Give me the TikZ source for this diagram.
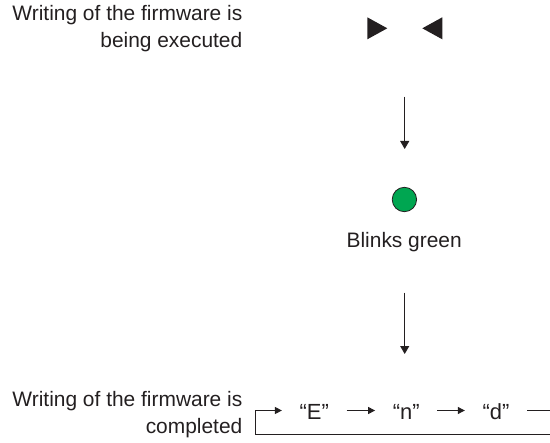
\documentclass[tikz,border=0pt]{standalone}
\usepackage{fontspec}
\setmainfont{Liberation Sans}
\usetikzlibrary{arrows.meta}
\definecolor{ink}{HTML}{231F20}
\definecolor{ledgreen}{HTML}{00A651}
\tikzset{
  lbl/.style={text=ink, font=\fontsize{21}{27}\selectfont, inner sep=0pt},
  seqchar/.style={lbl, font=\fontsize{22}{27}\selectfont, inner xsep=17.5bp, inner ysep=0pt, text height=17bp, text depth=0pt, anchor=base},
  varr/.style={draw=ink, line width=1bp, -{Triangle[length=8bp,width=9bp]}},
  harr/.style={draw=ink, line width=1bp, -{Triangle[length=7bp,width=7bp]}},
  plainline/.style={draw=ink, line width=1bp},
  tri/.style={fill=ink, draw=none},
  led/.style={circle, fill=ledgreen, draw=ink, line width=0.8bp, minimum size=24.4bp, inner sep=0pt}
}
\begin{document}
\begin{tikzpicture}[x=1bp, y=-1bp]
\useasboundingbox (0,0) rectangle (550,443);
% top label (base anchor = baseline of its last line)
\node[lbl, align=right, anchor=base east] (exec) at (242.5,47.7) {Writing of the firmware is\\being executed};
% display triangles
\coordinate (disp) at (404.8,28.3);
\fill[tri] (367.3,17.3) -- (387.3,28.3) -- (367.3,39.3) -- cycle;
\fill[tri] (442.3,17.3) -- (422.3,28.3) -- (442.3,39.3) -- cycle;
% arrow 1
\coordinate (a1s) at (404.7,96.7);
\coordinate (a1e) at (404.7,149);
\draw[varr] (a1s) -- (a1e);
% LED
\node[led] (ledc) at (404.4,199.5) {};
\node[lbl, anchor=base] (blink) at (404.2,247.3) {Blinks green};
% arrow 2
\coordinate (a2s) at (404.7,292.7);
\coordinate (a2e) at (404.7,354);
\draw[varr] (a2s) -- (a2e);
% bottom label
\node[lbl, align=right, anchor=base east] (done) at (242.5,433.5) {Writing of the firmware is\\completed};
% sequence
\node[seqchar] (E) at (314.2,419) {“E”};
\node[seqchar] (n) at (406.2,419) {“n”};
\node[seqchar] (d) at (495.9,419) {“d”};
\draw[harr] (E) -- (n);
\draw[harr] (n) -- (d);
\coordinate (loopR) at (550,434);
\draw[plainline] (d.east) -- (d.east -| loopR);
\draw[harr] (loopR) -- (255.7,434) |- (E.west);
\end{tikzpicture}
\end{document}
